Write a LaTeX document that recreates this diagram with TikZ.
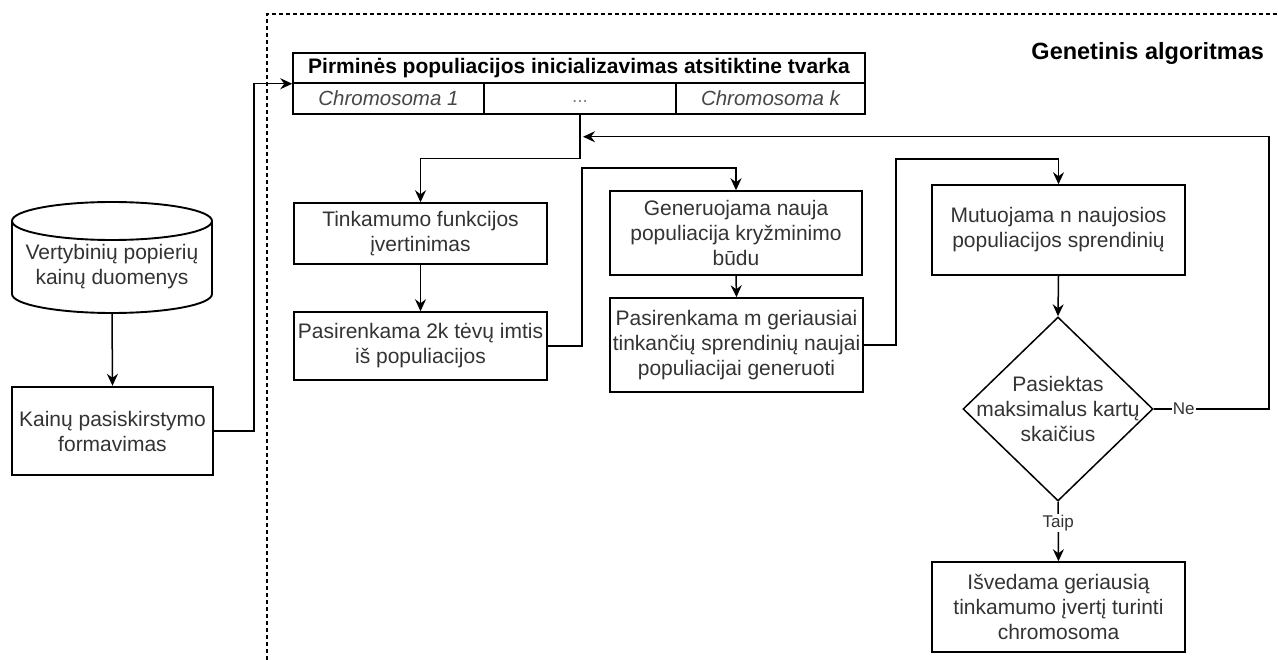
\documentclass[tikz,border=0pt]{standalone}
\usepackage{fontspec}
\setmainfont{Liberation Sans}
\usetikzlibrary{shapes.geometric,arrows.meta,calc}

\begin{document}
\begin{tikzpicture}[x=1pt,y=-1pt,
  line width=1.5pt,
  txt/.style={text=black!80,font=\fontsize{21}{25}\selectfont,align=center},
  box/.style={txt,draw=black,rectangle,inner sep=0pt},
  cell/.style={draw=black,rectangle,inner sep=0pt,minimum height=31pt,
    text=black!72,font=\fontsize{20.5}{24}\selectfont\itshape},
  arr/.style={draw=black,-{Stealth[length=12pt,width=11pt,inset=4pt]}},
  lbl/.style={fill=white,inner sep=1pt,text=black!80,font=\fontsize{17}{20}\selectfont},
]
\useasboundingbox (0,0) rectangle (1278,660);

% algorithm frame
\draw[dash pattern=on 4pt off 3pt,line width=1.2pt] (267,660) -- (267,14) -- (1278,14);
\node[anchor=east,font=\bfseries\fontsize{23.5}{28}\selectfont] (title) at (1268,53) {Genetinis algoritmas};

% data store
\begin{scope}[line width=1.9pt]
\draw[fill=white] (12,221) -- (12,294) arc[start angle=180,end angle=0,x radius=100,y radius=19] -- (212,221);
\draw (112,221) ellipse[x radius=100,y radius=19];
\end{scope}
\node[txt] (data) at (112,267) {Vertybinių popierių\\kainų duomenys};
\coordinate (datab) at (112,313);

\node[box,line width=2.4pt,minimum width=201pt,minimum height=88pt] (kain) at (112.5,431) {Kainų pasiskirstymo\\formavimas};

% initial population table
\node[draw=black,rectangle,inner sep=0pt,minimum width=572pt,minimum height=30pt,
  font=\bfseries\fontsize{21}{25}\selectfont] (hdr) at (579,68)
  {Pirminės populiacijos inicializavimas atsitiktine tvarka};
\node[cell,minimum width=191pt] (c1) at (388.5,98.5) {Chromosoma 1};
\node[cell,minimum width=192pt,text=black!50,font=\fontsize{19}{22}\selectfont] (c2) at (580,98.5) {\strut...};
\node[cell,minimum width=189pt] (c3) at (770.5,98.5) {Chromosoma k};

% steps
\node[box,minimum width=253pt,minimum height=61pt] (tink) at (420.5,233.5) {Tinkamumo funkcijos\\įvertinimas};
\node[box,minimum width=253pt,minimum height=68pt] (tevu) at (420.5,346) {Pasirenkama 2k tėvų imtis\\iš populiacijos};
\node[box,minimum width=252pt,minimum height=84pt] (gen) at (736,233) {Generuojama nauja\\populiacija kryžminimo\\būdu};
\node[box,minimum width=253pt,minimum height=94pt] (best) at (736.5,345) {Pasirenkama m geriausiai\\tinkančių sprendinių naujai\\populiacijai generuoti};
\node[box,minimum width=253pt,minimum height=90pt] (mut) at (1058.5,230) {Mutuojama n naujosios\\populiacijos sprendinių};
\node[draw=black,diamond,inner sep=0pt,minimum width=190pt,minimum height=184pt] (dia) at (1058,409) {};
\node[txt] (diatext) at (dia.center) {Pasiektas\\maksimalus kartų\\skaičius};
\node[box,minimum width=253pt,minimum height=90pt] (fin) at (1058.5,607) {Išvedama geriausią\\tinkamumo įvertį turinti\\chromosoma};

% connectors
\draw[arr] (datab) -- (kain.north);
\draw[arr] (kain.east) -- ++(40,0) |- (hdr.south west);
\draw[arr] (c2.south) -- ++(0,44) -| (tink.north);
\draw[arr] (tink.south) -- (tevu.north);
\draw[arr] (tevu.east) -- ++(34,0) |- ($(gen.north)+(0,-22)$) -- (gen.north);
\draw[arr] (gen.south) -- (best.north);
\draw[arr] (best.east) -- ++(32,0) |- ($(mut.north)+(0,-25)$) -- (mut.north);
\draw[arr] (mut.south) -- (dia.north);
\draw[arr] (dia.east) -- ++(115,0) node[lbl,pos=0.26] (ne) {Ne} |- ($(c2.south)+(3,22)$);
\draw[arr] (dia.south) -- (fin.north) node[lbl,pos=0.36] (taip) {Taip};
\end{tikzpicture}
\end{document}
